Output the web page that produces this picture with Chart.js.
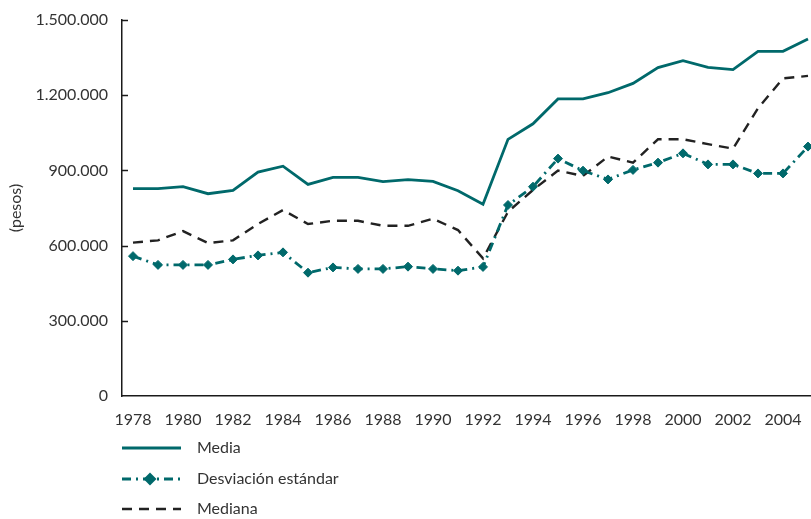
<!DOCTYPE html>
<html>
<head>
<meta charset="utf-8">
<title>Media, desviación estándar y mediana</title>
<script src="https://cdn.jsdelivr.net/npm/chart.js@4/dist/chart.umd.min.js"></script>
<style>
  html, body { margin: 0; padding: 0; background: #fff; }
  #contenedor { width: 811px; height: 519px; position: relative; }
</style>
</head>
<body>
<div id="contenedor"><canvas id="grafico"></canvas></div>
<script>
// datos (pesos)
const anios = [1978, 1979, 1980, 1981, 1982, 1983, 1984, 1985, 1986, 1987, 1988, 1989, 1990, 1991,
  1992, 1993, 1994, 1995, 1996, 1997, 1998, 1999, 2000, 2001, 2002, 2003, 2004, 2005];
const etiquetasX = [1978, 1980, 1982, 1984, 1986, 1988, 1990, 1992, 1994, 1996, 1998, 2000, 2002, 2004];
const etiquetasY = [0, 300000, 600000, 900000, 1200000, 1500000];

const media = [827000, 827000, 835000, 807000, 820000, 893000, 917000, 844000, 872000, 872000,
  855000, 863000, 856000, 819000, 765000, 1024000, 1086000, 1185000, 1185000, 1210000,
  1247000, 1310000, 1338000, 1311000, 1302000, 1375000, 1375000, 1424000];
const desviacion = [558000, 523000, 523000, 523000, 545000, 561000, 573000, 492000, 513000, 507000,
  507000, 516000, 507000, 500000, 515000, 762000, 835000, 947000, 899000, 864000,
  902000, 931000, 968000, 924000, 924000, 888000, 888000, 995000];
const mediana = [612000, 621000, 658000, 610000, 621000, 686000, 742000, 686000, 699000, 699000,
  679000, 679000, 707000, 662000, 549000, 735000, 822000, 899000, 878000, 955000,
  931000, 1024000, 1024000, 1005000, 987000, 1148000, 1267000, 1277000];

const TEAL = '#00696b';
const TEXTO = '#333333';
const FUENTE = 'Lato, "Open Sans", sans-serif';

const puntos = serie => serie.map((v, i) => ({ x: anios[i], y: v }));
const miles = v => String(v).replace(/\B(?=(\d{3})+(?!\d))/g, '.');

// marcas cortas hacia dentro sobre el eje y
const marcasEje = {
  id: 'marcasEje',
  afterDraw(chart) {
    const { ctx, scales: { y }, chartArea } = chart;
    ctx.save();
    ctx.strokeStyle = '#1a1a1a';
    ctx.lineWidth = 1.5;
    etiquetasY.forEach(v => {
      if (v === 0) return;
      const py = Math.round(y.getPixelForValue(v)) + 0.5;
      ctx.beginPath();
      ctx.moveTo(chartArea.left, py);
      ctx.lineTo(chartArea.left + 6, py);
      ctx.stroke();
    });
    ctx.restore();
  }
};

// leyenda vertical debajo del eje x
const leyendaVertical = {
  id: 'leyendaVertical',
  afterDraw(chart) {
    const ctx = chart.ctx;
    const x0 = chart.chartArea.left, x1 = x0 + 59, xt = x0 + 75;
    const filas = [448, 479, 509];
    chart.data.datasets.forEach((ds, i) => {
      const y = filas[i];
      ctx.save();
      ctx.strokeStyle = ds.borderColor;
      ctx.lineWidth = ds.borderWidth;
      ctx.setLineDash(ds.borderDash || []);
      ctx.beginPath();
      ctx.moveTo(x0, y);
      ctx.lineTo(x1, y);
      ctx.stroke();
      if (ds.pointRadius > 0) {
        ctx.setLineDash([]);
        ctx.fillStyle = ds.pointBackgroundColor;
        ctx.strokeStyle = ds.pointBorderColor;
        Chart.helpers.drawPoint(ctx, { pointStyle: ds.pointStyle, radius: ds.pointRadius, borderWidth: 1 }, x0 + 28, y);
      }
      ctx.fillStyle = TEXTO;
      ctx.font = '16px ' + FUENTE;
      ctx.textBaseline = 'middle';
      ctx.fillText(ds.label, xt, y);
      ctx.restore();
    });
  }
};

new Chart(document.getElementById('grafico'), {
  type: 'line',
  data: {
    datasets: [
      {
        label: 'Media',
        data: puntos(media),
        borderColor: TEAL,
        borderWidth: 2.8,
        pointRadius: 0,
        tension: 0
      },
      {
        label: 'Desviación estándar',
        data: puntos(desviacion),
        borderColor: TEAL,
        borderWidth: 2.8,
        borderDash: [9, 5, 2, 5],
        pointStyle: 'rectRot',
        pointRadius: 4.5,
        pointBackgroundColor: TEAL,
        pointBorderColor: TEAL,
        pointBorderWidth: 1,
        tension: 0,
        clip: false
      },
      {
        label: 'Mediana',
        data: puntos(mediana),
        borderColor: '#222222',
        borderWidth: 2.4,
        borderDash: [10, 7],
        pointRadius: 0,
        tension: 0
      }
    ]
  },
  options: {
    responsive: true,
    maintainAspectRatio: false,
    animation: false,
    layout: { autoPadding: false, padding: { top: 20, right: 0, bottom: 0, left: 0 } },
    plugins: {
      legend: { display: false },
      tooltip: { enabled: false }
    },
    scales: {
      x: {
        type: 'linear',
        min: 1977.56,
        max: 2005.12,
        afterBuildTicks: s => { s.ticks = etiquetasX.map(v => ({ value: v })); },
        afterFit: s => { s.height = 123; },
        ticks: {
          color: TEXTO,
          font: { family: FUENTE, size: 16 },
          padding: 5,
          maxRotation: 0,
          autoSkip: false,
          callback: v => String(v)
        },
        // marcas invisibles: solo dan separación a las etiquetas
        grid: { drawOnChartArea: false, drawTicks: true, tickLength: 9, tickColor: 'rgba(0,0,0,0)' },
        border: { color: '#1a1a1a', width: 1.5 }
      },
      y: {
        min: 0,
        max: 1500000,
        afterBuildTicks: s => { s.ticks = etiquetasY.map(v => ({ value: v })); },
        afterFit: s => { s.width = 122; },
        ticks: {
          color: TEXTO,
          font: { family: FUENTE, size: 16 },
          padding: 8,
          callback: v => miles(v)
        },
        grid: { drawOnChartArea: false, drawTicks: true, tickLength: 6, tickColor: 'rgba(0,0,0,0)' },
        border: { color: '#1a1a1a', width: 1.5 },
        title: {
          display: true,
          text: '(pesos)',
          color: TEXTO,
          font: { family: FUENTE, size: 16 },
          padding: { top: 6, bottom: 0 }
        }
      }
    }
  },
  plugins: [marcasEje, leyendaVertical]
});
</script>
</body>
</html>
